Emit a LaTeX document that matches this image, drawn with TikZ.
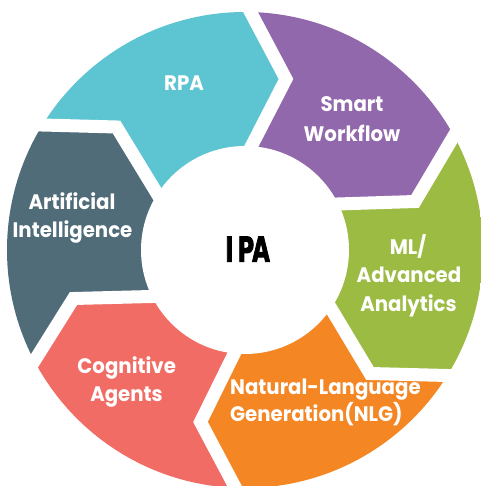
\documentclass[tikz,border=0pt]{standalone}
\usepackage{fontspec}
\usepackage{graphicx}
\setmainfont{Poppins}[FakeStretch=0.94]
\newfontfamily\ipafont{DejaVu Sans}[FakeBold=3]
\usetikzlibrary{calc}
\definecolor{rpacol}{RGB}{93,197,210}
\definecolor{swcol}{RGB}{145,104,172}
\definecolor{mlcol}{RGB}{156,187,66}
\definecolor{nlgcol}{RGB}{244,134,36}
\definecolor{cogcol}{RGB}{241,108,100}
\definecolor{aicol}{RGB}{80,108,121}
\begin{document}
\begin{tikzpicture}[x=1pt,y=-1pt,
  lbl/.style={text=white,font=\fontsize{21}{24}\selectfont\bfseries,inner sep=0pt,anchor=base},
  gapline/.style={white,line width=13pt,line join=miter,miter limit=10},
  hub/.style={circle,fill=white,minimum size=208pt,inner sep=0pt}
]
\useasboundingbox (0,0) rectangle (480,486);
\coordinate (C) at (245,250);
% boundary mid-lines: inner end, chevron vertex, outer end
\coordinate (i1) at (251.5,146);  \coordinate (v1) at (286,79);     \coordinate (o1) at (250.5,12);
\coordinate (i2) at (337.5,204);  \coordinate (v2) at (415,201.5);  \coordinate (o2) at (453.5,136.5);
\coordinate (i3) at (331,308.5);  \coordinate (v3) at (370,373.5);  \coordinate (o3) at (447.5,375.5);
\coordinate (i4) at (234,354);    \coordinate (v4) at (200.5,422);  \coordinate (o4) at (234.5,486);
\coordinate (i5) at (151,296.5);  \coordinate (v5) at (73.5,298.5); \coordinate (o5) at (34,361.5);
\coordinate (i6) at (157,193.5);  \coordinate (v6) at (116.5,127);  \coordinate (o6) at (42,125);
\foreach \k in {1,...,6}{
  \coordinate (ie\k) at ($(v\k)!1.6!(i\k)$);
  \coordinate (oe\k) at ($(v\k)!1.6!(o\k)$);
}
% far points
\coordinate (f1) at (-5,-183);
\coordinate (f2) at (495,-183);
\coordinate (f3) at (745,250);
\coordinate (f4) at (495,683);
\coordinate (f5) at (-5,683);
\coordinate (f6) at (-255,250);
\begin{scope}
  \clip (C) circle[radius=238pt];
  \fill[rpacol] (C) -- (ie6) -- (v6) -- (oe6) -- (f1) -- (oe1) -- (v1) -- (ie1) -- cycle;
  \fill[swcol]  (C) -- (ie1) -- (v1) -- (oe1) -- (f2) -- (oe2) -- (v2) -- (ie2) -- cycle;
  \fill[mlcol]  (C) -- (ie2) -- (v2) -- (oe2) -- (f3) -- (oe3) -- (v3) -- (ie3) -- cycle;
  \fill[nlgcol] (C) -- (ie3) -- (v3) -- (oe3) -- (f4) -- (oe4) -- (v4) -- (ie4) -- cycle;
  \fill[cogcol] (C) -- (ie4) -- (v4) -- (oe4) -- (f5) -- (oe5) -- (v5) -- (ie5) -- cycle;
  \fill[aicol]  (C) -- (ie5) -- (v5) -- (oe5) -- (f6) -- (oe6) -- (v6) -- (ie6) -- cycle;
\end{scope}
\foreach \k in {1,...,6}{
  \draw[gapline] (ie\k) -- (v\k) -- (oe\k);
}
\node[hub] (hubc) at (C) {};
\node[inner sep=0pt,anchor=base] (ipa) at (247.5,261.7)
  {\ipafont\bfseries\fontsize{34.5}{34.5}\selectfont\scalebox{0.66}[1]{I\kern6pt PA}};
\node[lbl] (rpa) at (184,90.5) {RPA};
\node[lbl] (sw1) at (352,112) {Smart};
\node[lbl] (sw2) at (352,141.5) {Workflow};
\node[lbl] (ai1) at (72,209) {Artificial};
\node[lbl] (ai2) at (72.5,237) {Intelligence};
\node[lbl] (ml1) at (408,254) {ML/};
\node[lbl] (ml2) at (409,282.5) {Advanced};
\node[lbl] (ml3) at (408.5,311) {Analytics};
\node[lbl] (cg1) at (126.7,373) {Cognitive};
\node[lbl] (cg2) at (126.5,401.5) {Agents};
\node[lbl,anchor=base west] (nl1) at (230,394) {Natural-Language};
\node[lbl,anchor=base west] (nl2) at (230,421.5) {Generation(NLG)};
\end{tikzpicture}
\end{document}
